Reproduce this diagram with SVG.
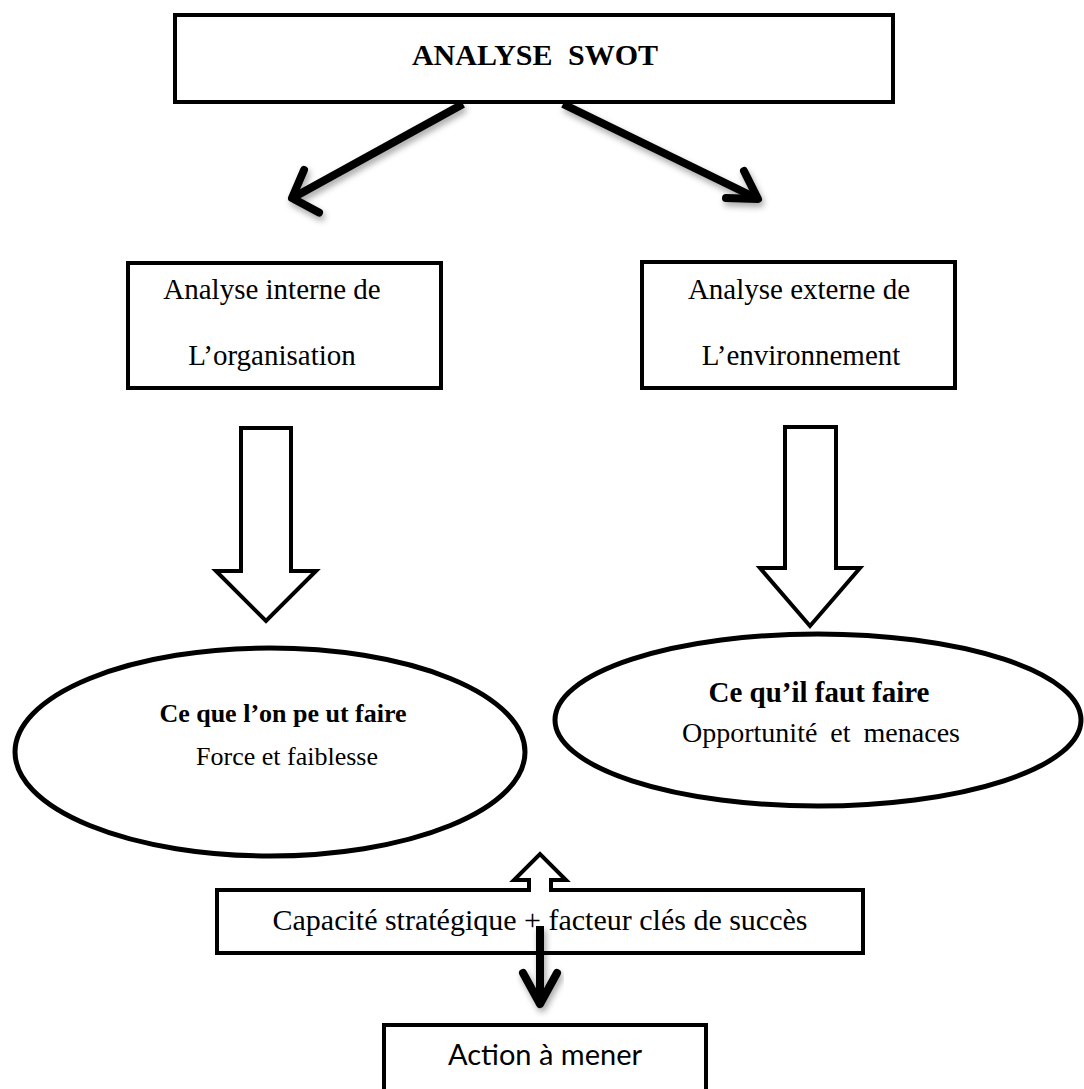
<svg xmlns="http://www.w3.org/2000/svg" width="1084" height="1089" viewBox="0 0 1084 1089">
  <style>
    .box { fill: #ffffff; stroke: #000000; stroke-width: 4; }
    .ell { fill: #ffffff; stroke: #000000; stroke-width: 5; }
    .hollow { fill: #ffffff; stroke: #000000; stroke-width: 4; stroke-linejoin: miter; }
    .conn { fill: none; stroke: #000000; stroke-width: 8; stroke-linecap: butt; }
    .head { fill: none; stroke: #000000; stroke-width: 8; stroke-linecap: round; stroke-linejoin: round; }
    .serif { font-family: "Liberation Serif", "Times New Roman", serif; fill: #000000; }
    .sans { font-family: Lato, "Liberation Sans", sans-serif; fill: #000000; }
  </style>
  <defs>
    <filter id="shadow" x="-20%" y="-20%" width="140%" height="140%">
      <feDropShadow dx="2" dy="4" stdDeviation="3" flood-color="#000000" flood-opacity="0.35"/>
    </filter>
  </defs>
  <rect width="1084" height="1089" fill="#ffffff"/>

  <g id="node-swot">
    <rect class="box" x="175" y="15" width="718" height="87"/>
    <text class="serif" x="535" y="65" font-size="30" font-weight="bold" text-anchor="middle" word-spacing="8">ANALYSE SWOT</text>
  </g>

  <g id="node-interne">
    <rect class="box" x="128" y="263" width="313" height="125"/>
    <text class="serif" x="272" y="299" font-size="29" text-anchor="middle">Analyse interne de</text>
    <text class="serif" x="272" y="365" font-size="29" text-anchor="middle">L’organisation</text>
  </g>

  <g id="node-externe">
    <rect class="box" x="642" y="262" width="313" height="126"/>
    <text class="serif" x="799" y="299" font-size="29" text-anchor="middle">Analyse externe de</text>
    <text class="serif" x="801" y="365" font-size="29" text-anchor="middle">L’environnement</text>
  </g>

  <g id="node-peut">
    <ellipse class="ell" cx="270" cy="752" rx="255" ry="104"/>
    <text class="serif" x="283" y="722" font-size="26" font-weight="bold" text-anchor="middle">Ce que l’on pe ut faire</text>
    <text class="serif" x="287" y="765" font-size="26" text-anchor="middle">Force et faiblesse</text>
  </g>

  <g id="node-faut">
    <ellipse class="ell" cx="818" cy="720" rx="263" ry="86"/>
    <text class="serif" x="819" y="702" font-size="29" font-weight="bold" text-anchor="middle">Ce qu’il faut faire</text>
    <text class="serif" x="821" y="742" font-size="28" text-anchor="middle" word-spacing="6">Opportunité et menaces</text>
  </g>

  <g id="node-capacite">
    <rect class="box" x="217" y="890" width="646" height="63"/>
    <text class="serif" x="540" y="930" font-size="30" text-anchor="middle">Capacité stratégique + facteur clés de succès</text>
  </g>

  <g id="node-action">
    <rect class="box" x="384" y="1025" width="322" height="80"/>
    <text class="sans" x="545" y="1065" font-size="29" text-anchor="middle">Action à mener</text>
  </g>

  <g id="connectors">
    <g filter="url(#shadow)">
      <line class="conn" x1="463" y1="104" x2="296" y2="196"/>
      <path class="head" d="M 319 212.5 L 292 198 L 304 170"/>
      <line class="conn" x1="563" y1="104" x2="754" y2="197"/>
      <path class="head" d="M 744 171 L 758 199 L 726 198"/>
    </g>
    <path class="hollow" d="M 241 428 H 291 V 571 H 316 L 266 621 L 216 571 H 241 Z"/>
    <path class="hollow" d="M 785 427 H 836 V 568 H 860 L 810 626 L 760 568 H 785 Z"/>
    <path class="hollow" d="M 529 892 V 880 H 514 L 540 854 L 566 880 H 551 V 892"/>
    <g filter="url(#shadow)">
      <line class="conn" x1="540" y1="926" x2="540" y2="1000" stroke-width="9"/>
      <path class="head" stroke-width="9" d="M 523 973 L 540 1004 L 557 973"/>
    </g>
  </g>
</svg>
